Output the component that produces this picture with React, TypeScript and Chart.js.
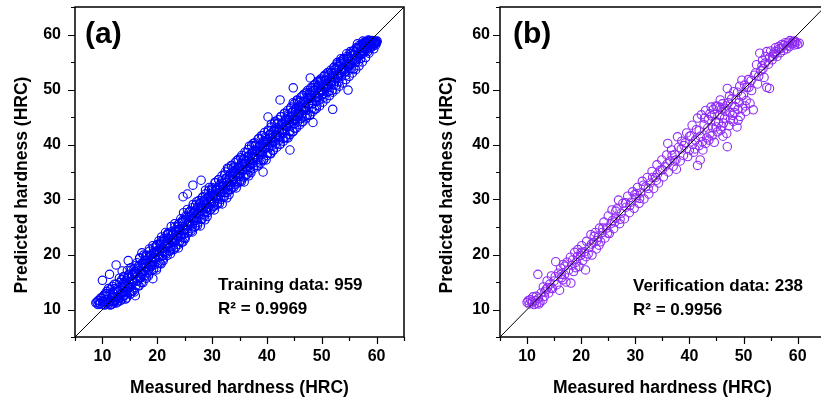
import React, { useEffect, useRef } from 'react';
import { Chart, registerables } from 'chart.js';

Chart.register(...registerables);

// ---------- data ----------
const axisMin = 5;
const axisMax = 65;
const majorTicks = [10, 20, 30, 40, 50, 60];
const diagonal = [5, 65];

const trainingTitle = 'Training data: 959';
const trainingR2 = 'R² = 0.9969';
const verificationTitle = 'Verification data: 238';
const verificationR2 = 'R² = 0.9956';
const xTitle = 'Measured hardness (HRC)';
const yTitle = 'Predicted hardness (HRC)';

// [measured, predicted]
const trainingPoints: [number, number][] = [
  [8.8, 11.2], [9.2, 11.6], [9.5, 11.0], [9.7, 12.1], [10.0, 15.3], [10.1, 11.4], [10.3, 12.6], [10.5, 10.9],
  [10.6, 11.8], [10.8, 12.9], [11.0, 11.3], [11.1, 13.8], [11.3, 16.4], [11.4, 10.8], [11.6, 12.2], [11.8, 11.0],
  [11.9, 13.1], [12.1, 11.5], [12.2, 14.6], [12.4, 12.3], [12.5, 18.1], [12.6, 11.2], [12.8, 13.4], [13.0, 12.0],
  [13.1, 15.7], [13.3, 11.6], [13.5, 13.0], [13.6, 17.0], [13.8, 12.4], [14.0, 14.2],
  [14.2, 11.9], [14.3, 15.3], [14.5, 13.5], [14.7, 18.9], [14.8, 16.4], [15.0, 14.0], [15.1, 12.8], [15.3, 17.2],
  [15.5, 15.1], [15.6, 13.4], [15.8, 16.6], [16.0, 12.5], [16.1, 18.0], [16.3, 15.2], [16.5, 14.3], [16.6, 17.5],
  [16.8, 19.4], [17.0, 15.8], [17.1, 16.9], [17.2, 20.3], [17.4, 14.9], [17.6, 18.2], [17.8, 17.0], [18.0, 15.7],
  [18.1, 19.6], [18.3, 18.4], [18.5, 16.5], [18.6, 20.6], [18.8, 17.9], [19.0, 19.0], [19.2, 15.6], [19.3, 21.2],
  [19.5, 18.1], [19.7, 20.0], [19.9, 17.6],
  [20.0, 21.8], [20.2, 19.5], [20.4, 20.7], [20.5, 18.4], [20.7, 22.4], [20.9, 21.1], [21.0, 19.2], [21.2, 22.9],
  [21.4, 20.3], [21.6, 21.9], [21.8, 19.8], [22.0, 23.6], [22.1, 22.0], [22.3, 20.6], [22.5, 24.1], [22.7, 21.4],
  [22.9, 23.0], [23.0, 20.9], [23.2, 25.0], [23.4, 22.6], [23.6, 24.0], [23.8, 21.8], [24.0, 25.6], [24.2, 23.4],
  [24.4, 22.2], [24.6, 26.2], [24.7, 30.5], [24.8, 24.5], [25.0, 23.1], [25.2, 27.0], [25.4, 25.3], [25.5, 31.0],
  [25.6, 23.9], [25.8, 27.7], [26.0, 26.0], [26.2, 24.3], [26.4, 28.5], [26.5, 32.6], [26.6, 26.6], [26.8, 25.0],
  [27.0, 29.0], [27.2, 27.4], [27.4, 25.8], [27.6, 29.8], [27.8, 28.0], [28.0, 33.5], [28.0, 26.4], [28.2, 30.3],
  [28.4, 28.6], [28.6, 27.0], [28.8, 31.0], [29.0, 29.3], [29.2, 27.6], [29.4, 31.6], [29.6, 30.0], [29.8, 28.2],
  [30.0, 32.2], [30.2, 30.6], [30.4, 28.8], [30.6, 33.0], [30.8, 31.2], [31.0, 29.4], [31.2, 33.6], [31.4, 31.8],
  [31.6, 30.0], [31.8, 34.3], [32.0, 32.4], [32.2, 30.7], [32.4, 35.0], [32.6, 33.0], [32.8, 31.3], [33.0, 35.6],
  [33.2, 33.6], [33.4, 31.8], [33.6, 36.1], [33.8, 34.2], [34.0, 32.3], [34.2, 36.7], [34.4, 34.8], [34.6, 33.0],
  [34.8, 37.3], [35.0, 35.3], [35.2, 33.5], [35.4, 38.0], [35.6, 36.0], [35.8, 34.1], [36.0, 38.6], [36.2, 36.5],
  [36.4, 34.6], [36.6, 39.1], [36.8, 37.1], [37.0, 35.2], [37.2, 39.8], [37.4, 37.6], [37.6, 35.7], [37.8, 40.3],
  [38.0, 38.2], [38.2, 36.2], [38.4, 41.0], [38.6, 38.8], [38.8, 36.6], [39.0, 41.6], [39.2, 39.4], [39.3, 35.0],
  [39.4, 37.2], [39.6, 42.2], [39.8, 40.0],
  [40.0, 38.0], [40.2, 45.0], [40.2, 42.6], [40.4, 40.5], [40.6, 38.4], [40.8, 43.2], [41.0, 41.1], [41.2, 39.0],
  [41.4, 43.9], [41.6, 41.7], [41.8, 39.5], [42.0, 44.5], [42.2, 42.3], [42.4, 48.1], [42.4, 40.0], [42.6, 45.0],
  [42.8, 42.8], [43.0, 40.6], [43.2, 45.7], [43.4, 43.4], [43.6, 41.2], [43.8, 46.2], [44.0, 44.0], [44.2, 39.0],
  [44.2, 41.8], [44.4, 46.8], [44.6, 44.5], [44.8, 50.3], [44.8, 42.4], [45.0, 47.4], [45.2, 45.1], [45.4, 43.0],
  [45.6, 48.0], [45.8, 45.7], [46.0, 43.6], [46.2, 48.6], [46.4, 46.3], [46.6, 44.2], [46.8, 49.2], [47.0, 46.9],
  [47.2, 44.8], [47.4, 49.8], [47.6, 47.4], [47.9, 52.1], [47.8, 45.4], [48.0, 50.3], [48.2, 48.0], [48.4, 44.0],
  [48.4, 46.0], [48.6, 50.8], [48.8, 48.6], [49.0, 46.5], [49.2, 51.4], [49.4, 49.2], [49.6, 47.0], [49.8, 51.9],
  [50.0, 49.8], [50.2, 47.7], [50.4, 52.4], [50.6, 50.3], [50.8, 48.3], [51.0, 53.0], [51.2, 50.9], [51.4, 48.9],
  [51.6, 53.5], [51.8, 51.4], [52.0, 46.4], [52.0, 49.5], [52.2, 54.0], [52.4, 52.0], [52.6, 50.0], [52.8, 54.6],
  [53.0, 52.6], [53.2, 50.6], [53.4, 55.1], [53.6, 53.1], [53.8, 51.2], [54.0, 55.6], [54.2, 53.7], [54.4, 51.8],
  [54.6, 56.0], [54.8, 49.9], [54.8, 54.2], [55.0, 52.4], [55.2, 56.5], [55.4, 54.7], [55.6, 53.0], [55.8, 57.0],
  [56.0, 55.3], [56.2, 53.6], [56.4, 57.4], [56.6, 55.9], [56.8, 54.3], [57.0, 57.8], [57.2, 56.4], [57.4, 55.0],
  [57.6, 58.1], [57.8, 57.0], [58.0, 55.8], [58.2, 58.4], [58.4, 57.5], [58.6, 56.6], [58.8, 58.6], [59.0, 57.9],
  [59.2, 58.8], [59.4, 58.2], [59.6, 58.7], [59.8, 58.4], [60.0, 58.6], [59.5, 57.4], [58.5, 59.0], [57.5, 58.8],
  [56.5, 58.3],
];

const trainingPointsMore: [number, number][] = [
  [9.0, 11.3], [9.2, 10.9], [9.4, 11.7], [9.6, 11.1], [9.8, 12.0],
  [10.0, 11.0], [10.15, 12.4], [10.3, 11.5], [10.4, 10.8], [10.55, 12.9], [10.7, 11.2], [10.8, 13.3], [10.95, 11.8],
  [11.1, 11.0], [11.2, 12.6], [11.35, 11.4], [11.5, 13.7], [11.6, 10.9], [11.75, 12.1], [11.85, 14.2], [11.9, 11.6],
  [12.0, 12.9], [12.15, 11.2], [12.3, 13.8], [12.4, 11.7], [12.55, 14.6], [12.7, 12.3], [12.8, 11.4], [12.95, 13.4],
  [13.1, 12.0], [13.2, 14.9], [13.35, 12.8], [13.5, 15.4], [13.6, 11.9], [13.75, 13.9], [13.85, 16.0], [13.9, 12.6],
  [14.0, 15.9], [14.15, 12.6], [14.3, 14.6], [14.4, 12.1], [14.55, 17.1], [14.7, 14.2], [14.8, 15.9], [14.95, 13.1],
  [15.1, 14.2], [15.2, 17.6], [15.35, 13.3], [15.5, 16.3], [15.6, 15.4], [15.75, 17.4], [15.85, 13.2], [15.9, 16.4],
  [16.0, 16.6], [16.15, 14.4], [16.3, 18.5], [16.4, 16.0], [16.55, 17.9], [16.7, 14.3], [16.8, 19.3], [16.95, 15.8],
  [17.1, 14.9], [17.2, 18.4], [17.35, 16.6], [17.5, 19.9], [17.6, 16.1], [17.75, 17.8], [17.85, 19.7], [17.9, 17.6],
  [18.0, 19.9], [18.15, 16.7], [18.3, 18.6], [18.4, 16.1], [18.55, 21.0], [18.7, 18.2], [18.8, 19.9], [18.95, 17.1],
  [19.1, 18.2], [19.2, 21.6], [19.35, 17.3], [19.5, 20.3], [19.6, 19.4], [19.75, 21.4], [19.85, 17.2], [19.9, 20.4],
  [20.0, 20.6], [20.15, 18.4], [20.3, 22.5], [20.4, 20.0], [20.55, 21.9], [20.7, 18.3], [20.8, 23.2], [20.95, 19.8],
  [21.1, 18.9], [21.2, 22.4], [21.35, 20.6], [21.5, 24.0], [21.6, 20.1], [21.75, 21.8], [21.85, 23.7], [21.9, 21.6],
  [22.0, 23.9], [22.15, 20.7], [22.3, 22.6], [22.4, 20.1], [22.55, 25.1], [22.7, 22.2], [22.8, 23.9], [22.95, 21.1],
  [23.1, 22.2], [23.2, 25.6], [23.35, 21.3], [23.5, 24.3], [23.6, 23.4], [23.75, 25.4], [23.85, 21.2], [23.9, 24.4],
  [24.0, 24.6], [24.15, 22.4], [24.3, 26.5], [24.4, 24.0], [24.55, 25.9], [24.7, 22.3], [24.8, 27.6], [24.95, 23.8],
  [25.1, 22.9], [25.2, 26.4], [25.35, 24.6], [25.5, 28.2], [25.6, 24.1], [25.75, 25.8], [25.85, 27.7], [25.9, 25.6],
  [26.0, 27.9], [26.15, 24.7], [26.3, 26.6], [26.4, 24.1], [26.55, 29.1], [26.7, 26.2], [26.8, 27.9], [26.95, 25.1],
  [27.1, 26.2], [27.2, 29.6], [27.35, 25.3], [27.5, 28.3], [27.6, 27.4], [27.75, 29.4], [27.85, 25.2], [27.9, 28.4],
  [28.0, 28.6], [28.15, 26.4], [28.3, 30.5], [28.4, 28.0], [28.55, 29.9], [28.7, 26.3], [28.8, 31.7], [28.95, 27.8],
  [29.1, 26.9], [29.2, 30.4], [29.35, 28.6], [29.5, 32.2], [29.6, 28.1], [29.75, 29.8], [29.85, 31.7], [29.9, 29.6],
  [30.0, 31.9], [30.15, 28.7], [30.3, 30.6], [30.4, 28.1], [30.55, 33.1], [30.7, 30.2], [30.8, 31.9], [30.95, 29.1],
  [31.1, 30.2], [31.2, 33.6], [31.35, 29.3], [31.5, 32.3], [31.6, 31.4], [31.75, 33.4], [31.85, 29.2], [31.9, 32.4],
  [32.0, 32.6], [32.15, 30.4], [32.3, 34.5], [32.4, 32.0], [32.55, 33.9], [32.7, 30.3], [32.8, 35.7], [32.95, 31.8],
  [33.1, 30.9], [33.2, 34.4], [33.35, 32.6], [33.5, 36.2], [33.6, 32.1], [33.75, 33.8], [33.85, 35.7], [33.9, 33.6],
  [34.0, 35.9], [34.15, 32.7], [34.3, 34.6], [34.4, 32.1], [34.55, 37.1], [34.7, 34.2], [34.8, 35.9], [34.95, 33.1],
  [35.1, 34.2], [35.2, 37.6], [35.35, 33.3], [35.5, 36.3], [35.6, 35.4], [35.75, 37.4], [35.85, 33.2], [35.9, 36.4],
  [36.0, 36.6], [36.15, 34.4], [36.3, 38.5], [36.4, 36.0], [36.55, 37.9], [36.7, 34.3], [36.8, 39.7], [36.95, 35.8],
  [37.1, 34.9], [37.2, 38.4], [37.35, 36.6], [37.5, 40.2], [37.6, 36.1], [37.75, 37.8], [37.85, 39.7], [37.9, 37.6],
  [38.0, 39.9], [38.15, 36.7], [38.3, 38.6], [38.4, 36.1], [38.55, 41.1], [38.7, 38.2], [38.8, 39.9], [38.95, 37.1],
  [39.1, 38.2], [39.2, 41.6], [39.35, 37.3], [39.5, 40.3], [39.6, 39.4], [39.75, 41.4], [39.85, 37.2], [39.9, 40.4],
  [40.0, 40.6], [40.15, 38.4], [40.3, 42.5], [40.4, 40.0], [40.55, 41.9], [40.7, 38.3], [40.8, 43.7], [40.95, 39.8],
  [41.1, 38.9], [41.2, 42.4], [41.35, 40.6], [41.5, 44.2], [41.6, 40.1], [41.75, 41.8], [41.85, 43.7], [41.9, 41.6],
  [42.0, 43.9], [42.15, 40.7], [42.3, 42.6], [42.4, 40.1], [42.55, 45.1], [42.7, 42.2], [42.8, 43.9], [42.95, 41.1],
  [43.1, 42.2], [43.2, 45.6], [43.35, 41.3], [43.5, 44.3], [43.6, 43.4], [43.75, 45.4], [43.85, 41.2], [43.9, 44.4],
  [44.0, 44.6], [44.15, 42.4], [44.3, 46.5], [44.4, 44.0], [44.55, 45.9], [44.7, 42.3], [44.8, 47.6], [44.95, 43.8],
  [45.1, 42.9], [45.2, 46.4], [45.35, 44.6], [45.5, 48.1], [45.6, 44.1], [45.75, 45.8], [45.85, 47.6], [45.9, 45.6],
  [46.0, 47.9], [46.15, 44.7], [46.3, 46.6], [46.4, 44.1], [46.55, 48.9], [46.7, 46.2], [46.8, 47.9], [46.95, 45.1],
  [47.1, 46.2], [47.2, 49.4], [47.35, 45.3], [47.5, 48.3], [47.6, 47.4], [47.75, 49.4], [47.85, 45.3], [47.9, 48.4],
  [48.0, 48.6], [48.15, 46.5], [48.3, 50.3], [48.4, 48.0], [48.55, 49.9], [48.7, 46.4], [48.8, 51.0], [48.95, 47.8],
  [49.1, 47.1], [49.2, 50.4], [49.35, 48.6], [49.5, 51.6], [49.6, 48.1], [49.75, 49.8], [49.85, 51.5], [49.9, 49.6],
  [50.0, 51.5], [50.15, 49.0], [50.3, 50.5], [50.4, 48.6], [50.55, 52.6], [50.7, 50.3], [50.8, 51.7], [50.95, 49.5],
  [51.1, 50.4], [51.2, 53.1], [51.35, 49.7], [51.5, 52.1], [51.6, 51.4], [51.75, 53.1], [51.85, 49.8], [51.9, 52.3],
  [52.0, 52.5], [52.15, 50.8], [52.3, 54.1], [52.4, 52.1], [52.55, 53.7], [52.7, 50.8], [52.8, 54.9], [52.95, 52.1],
  [53.1, 51.4], [53.2, 54.2], [53.35, 52.8], [53.5, 55.6], [53.6, 52.4], [53.75, 53.8], [53.85, 55.4], [53.9, 53.7],
  [54.0, 55.5], [54.15, 53.0], [54.3, 54.5], [54.4, 52.6], [54.55, 56.5], [54.7, 54.3], [54.8, 55.7], [54.95, 53.5],
  [55.1, 54.4], [55.2, 56.9], [55.35, 53.8], [55.5, 56.1], [55.6, 55.4], [55.75, 57.0], [55.85, 53.8], [55.9, 56.3],
  [56.0, 56.4], [56.15, 54.9], [56.3, 57.6], [56.4, 56.1], [56.55, 57.5], [56.7, 55.0], [56.8, 58.0], [56.95, 56.2],
  [57.1, 55.6], [57.2, 58.0], [57.35, 56.9], [57.5, 58.4], [57.6, 56.6], [57.75, 57.8], [57.85, 58.6], [57.9, 57.6],
  [58.0, 58.7], [58.15, 57.1], [58.3, 58.3], [58.4, 56.9], [58.55, 58.8], [58.7, 58.0], [58.8, 58.6], [58.95, 57.6],
  [59.1, 58.4], [59.2, 58.9], [59.35, 57.9], [59.5, 58.6], [59.6, 58.3], [59.75, 58.8], [59.85, 58.1], [59.9, 58.7],
  [60.0, 58.5], [60.1, 58.8],
];

const trainingPointsCore: [number, number][] = [
  [12.1, 12.3], [12.35, 11.6], [12.6, 13.6], [12.85, 12.0], [13.1, 12.6], [13.35, 14.2], [13.6, 12.9], [13.85, 14.8],
  [14.1, 14.9], [14.35, 13.2], [14.6, 15.8], [14.85, 13.9], [15.1, 14.6], [15.35, 16.3], [15.6, 14.9], [15.85, 16.9],
  [16.1, 16.9], [16.35, 15.2], [16.6, 17.8], [16.85, 15.9], [17.1, 16.6], [17.35, 18.3], [17.6, 16.9], [17.85, 18.9],
  [18.1, 18.9], [18.35, 17.2], [18.6, 19.8], [18.85, 17.9], [19.1, 18.7], [19.35, 20.4], [19.6, 19.3], [19.85, 21.6],
  [20.1, 20.8], [20.35, 19.5], [20.6, 21.9], [20.85, 20.6], [21.1, 20.5], [21.35, 22.6], [21.6, 21.4], [21.85, 23.0],
  [22.1, 22.9], [22.35, 21.4], [22.6, 23.5], [22.85, 22.6], [23.1, 22.8], [23.35, 24.5], [23.6, 23.3], [23.85, 25.1],
  [24.1, 24.7], [24.35, 23.2], [24.6, 25.9], [24.85, 24.4], [25.1, 24.6], [25.35, 26.8], [25.6, 25.2], [25.85, 27.0],
  [26.1, 26.8], [26.35, 25.4], [26.6, 27.7], [26.85, 26.5], [27.1, 26.7], [27.35, 28.6], [27.6, 27.3], [27.85, 29.2],
  [28.1, 28.9], [28.35, 27.3], [28.6, 29.6], [28.85, 28.4], [29.1, 28.6], [29.35, 30.5], [29.6, 29.2], [29.85, 31.1],
  [30.1, 30.8], [30.35, 29.4], [30.6, 31.9], [30.85, 30.5], [31.1, 30.7], [31.35, 32.6], [31.6, 31.3], [31.85, 33.0],
  [32.1, 32.9], [32.35, 31.3], [32.6, 33.8], [32.85, 32.4], [33.1, 32.6], [33.35, 34.7], [33.6, 33.4], [33.85, 35.1],
  [34.1, 34.8], [34.35, 33.3], [34.6, 35.7], [34.85, 34.6], [35.1, 34.7], [35.35, 36.6], [35.6, 35.3], [35.85, 37.2],
  [36.1, 36.9], [36.35, 35.4], [36.6, 37.8], [36.85, 36.5], [37.1, 36.6], [37.35, 38.7], [37.6, 37.4], [37.85, 39.0],
  [38.1, 38.8], [38.35, 37.3], [38.6, 39.7], [38.85, 38.6], [39.1, 38.7], [39.35, 40.6], [39.6, 39.3], [39.85, 41.1],
  [40.1, 40.9], [40.35, 39.4], [40.6, 41.8], [40.85, 40.5], [41.1, 40.6], [41.35, 42.7], [41.6, 41.4], [41.85, 43.0],
  [42.1, 42.8], [42.35, 41.3], [42.6, 43.7], [42.85, 42.6], [43.1, 42.7], [43.35, 44.6], [43.6, 43.3], [43.85, 45.1],
  [44.1, 44.9], [44.35, 43.4], [44.6, 45.8], [44.85, 44.5], [45.1, 44.6], [45.35, 46.7], [45.6, 45.4], [45.85, 47.0],
  [46.1, 46.8], [46.35, 45.3], [46.6, 47.7], [46.85, 46.6], [47.1, 46.7], [47.35, 48.6], [47.6, 47.3], [47.85, 49.1],
  [48.1, 48.9], [48.35, 47.4], [48.6, 49.8], [48.85, 48.5], [49.1, 48.6], [49.35, 50.7], [49.6, 49.4], [49.85, 51.0],
  [50.1, 50.8], [50.35, 49.3], [50.6, 51.7], [50.85, 50.6], [51.1, 50.7], [51.35, 52.6], [51.6, 51.3], [51.85, 53.1],
  [52.1, 52.9], [52.35, 51.4], [52.6, 53.8], [52.85, 52.5], [53.1, 52.6], [53.35, 54.7], [53.6, 53.4], [53.85, 55.0],
  [54.1, 54.8], [54.35, 53.3], [54.6, 55.7], [54.85, 54.6], [55.1, 54.7], [55.35, 56.5], [55.6, 55.3], [55.85, 57.0],
  [56.1, 56.8], [56.35, 55.4], [56.6, 57.5], [56.85, 56.6], [57.1, 56.7], [57.35, 58.2], [57.6, 57.4], [57.85, 58.5],
  [58.1, 58.6], [58.35, 57.5], [58.6, 58.9], [58.85, 58.2],
];

const verificationPoints: [number, number][] = [
  [10.0, 11.3], [10.2, 11.6], [10.4, 11.0], [10.6, 11.8], [10.9, 11.2], [11.1, 12.3], [11.3, 10.9], [11.5, 11.6],
  [11.8, 11.1], [12.0, 16.4], [12.1, 12.0], [12.4, 11.3], [12.6, 13.0], [12.9, 11.7], [13.0, 14.1], [13.2, 12.4],
  [13.5, 13.6], [13.7, 15.2], [14.0, 13.0], [14.2, 14.6], [14.5, 16.1], [14.7, 13.8], [15.0, 15.2], [15.3, 18.7],
  [15.5, 14.5], [15.8, 16.6], [16.0, 13.5], [16.2, 17.5], [16.4, 15.8], [16.7, 18.2], [16.9, 16.3], [17.2, 15.0],
  [17.4, 18.6], [17.7, 17.2], [18.0, 19.5], [18.1, 14.8], [18.3, 18.0], [18.6, 16.9], [18.8, 20.4], [19.1, 18.6],
  [19.4, 20.9], [19.6, 17.8], [19.9, 19.8], [20.1, 21.6], [20.3, 18.9], [20.6, 20.5], [20.8, 17.2], [21.0, 22.4],
  [21.3, 20.1], [21.5, 21.3], [21.8, 23.6], [22.0, 19.9], [22.3, 22.2], [22.6, 24.0], [22.8, 21.0], [23.1, 23.1],
  [23.4, 24.8], [23.6, 22.3], [23.9, 24.0], [24.2, 25.9], [24.4, 23.0], [24.7, 24.8], [25.0, 27.0], [25.2, 23.8],
  [25.5, 25.6], [25.7, 28.1], [26.0, 24.7], [26.3, 26.6], [26.6, 28.3], [26.9, 29.9], [27.1, 25.6], [27.4, 27.5],
  [27.7, 29.3], [28.0, 26.5], [28.3, 28.6], [28.6, 30.6], [28.9, 27.6], [29.2, 29.5], [29.5, 31.4], [29.8, 28.4],
  [30.1, 30.3], [30.4, 32.2], [30.7, 29.3], [31.0, 31.2], [31.3, 33.3], [31.6, 30.1], [31.9, 32.3], [32.2, 34.0],
  [32.5, 31.0], [32.8, 33.0], [33.1, 35.1], [33.4, 32.0], [33.7, 34.0], [34.0, 36.3], [34.3, 33.0], [34.6, 35.3],
  [34.9, 37.2], [35.2, 34.1], [35.5, 36.0], [35.8, 38.1], [36.0, 40.2], [36.1, 35.0], [36.4, 37.0], [36.7, 39.0],
  [37.0, 36.0], [37.3, 38.2], [37.8, 41.4], [37.6, 35.5], [38.0, 39.5], [38.3, 37.0], [38.6, 40.6], [38.9, 38.0],
  [39.2, 40.3], [39.5, 42.1], [39.7, 37.8], [40.0, 39.0], [40.3, 41.6], [40.5, 43.5], [40.8, 38.6], [41.1, 40.8],
  [41.5, 44.8], [41.5, 36.2], [41.8, 42.5], [42.0, 37.2], [42.2, 45.4], [42.4, 40.5], [42.7, 43.6], [43.0, 46.2],
  [43.2, 41.2], [43.5, 44.5], [43.8, 42.0], [44.0, 46.8], [44.3, 43.0], [44.6, 45.5], [44.9, 47.0], [45.2, 42.3],
  [45.4, 44.0], [45.7, 48.1], [45.9, 46.4], [46.2, 41.5], [46.5, 44.8], [46.8, 47.0], [47.0, 39.6], [47.0, 50.2],
  [47.3, 43.4], [47.5, 45.8], [47.8, 48.3], [48.1, 44.2], [48.4, 46.9], [48.8, 43.2], [48.9, 49.5], [49.2, 47.6],
  [49.4, 45.1], [49.7, 51.7], [50.0, 49.0], [50.3, 47.0], [50.6, 50.4], [50.9, 51.8], [51.2, 47.5], [51.5, 49.8],
  [51.8, 46.3], [52.0, 52.6], [52.4, 54.5], [52.6, 51.0], [53.0, 56.6], [53.2, 53.4], [53.5, 55.3], [53.8, 52.2],
  [54.1, 56.0], [54.3, 56.9], [54.3, 50.4], [54.6, 54.6], [54.8, 50.2], [55.0, 57.0], [55.3, 55.4], [55.6, 56.6],
  [55.9, 57.6], [56.2, 56.0], [56.5, 57.8], [56.8, 56.7], [57.1, 58.2], [57.4, 57.1], [57.7, 58.5], [58.0, 57.4],
  [58.3, 58.6], [58.5, 57.8], [58.8, 58.3], [59.1, 58.7], [59.4, 58.1], [59.7, 58.5], [60.0, 58.2], [60.3, 58.4],
];

const verificationPointsMore: [number, number][] = [
  [11.0, 11.5], [11.7, 12.4], [12.2, 11.0], [13.3, 13.2], [14.4, 13.9], [15.2, 16.0], [16.6, 15.4], [17.0, 17.9],
  [18.4, 19.0], [19.0, 17.6], [20.0, 20.4], [20.9, 19.6], [21.9, 21.9], [22.4, 23.3], [23.3, 21.7], [24.0, 24.8],
  [24.9, 23.9], [25.8, 26.2], [26.4, 27.9], [27.2, 26.4], [28.2, 29.4], [29.0, 28.9], [29.9, 30.9], [30.8, 30.2],
  [31.5, 32.6], [32.4, 32.0], [33.2, 34.0], [34.1, 34.6], [35.0, 35.4], [35.9, 36.5], [36.8, 38.0], [37.5, 37.2],
  [38.5, 39.2], [39.0, 39.8], [40.0, 41.5], [40.6, 40.0], [41.3, 42.7], [42.0, 41.5], [42.8, 44.8], [43.4, 43.0],
  [44.1, 45.2], [44.8, 44.2], [45.6, 46.8], [46.0, 43.3], [46.6, 46.0], [47.2, 47.6], [48.0, 45.3], [48.6, 48.2],
  [49.0, 46.4], [49.6, 48.8], [50.5, 48.0], [51.0, 50.4], [52.2, 53.0], [53.4, 54.3], [54.0, 54.8], [55.4, 56.0],
  [56.0, 56.9], [57.0, 57.5], [58.1, 58.0], [59.0, 58.4], [59.5, 58.8],
];

const verificationPointsDense: [number, number][] = [
  [41.0, 39.2], [41.8, 39.8], [42.5, 39.0], [43.0, 40.2], [43.6, 40.8], [44.2, 41.6], [44.6, 40.4], [45.0, 43.2],
  [45.8, 42.6], [46.3, 43.9], [46.9, 42.0], [47.6, 44.6], [48.3, 45.8], [49.0, 44.4], [49.8, 46.6], [50.4, 46.0],
  [43.8, 45.6], [44.4, 46.4], [45.1, 46.9], [45.6, 45.3], [46.1, 47.4], [46.6, 46.6], [47.4, 48.8], [48.2, 49.6],
  [49.3, 50.6], [50.2, 50.8], [51.4, 51.6], [52.8, 52.4], [53.6, 53.8], [54.8, 55.8], [55.8, 56.4], [56.6, 57.4],
  [57.4, 58.0], [58.6, 58.9], [59.4, 58.6], [13.8, 14.0], [16.3, 16.4], [19.3, 19.6], [22.9, 22.5], [26.2, 25.9],
  [30.3, 31.1], [33.9, 33.5], [37.2, 37.0],
];

// ---------- drawing ----------
const FONT = "'Liberation Sans', Arial, Helvetica, sans-serif";

const framePlugin = {
  id: 'frame',
  afterDraw(chart: any, _args: any, opts: any) {
    const { ctx, chartArea: a, scales } = chart;
    const xs = scales.x;
    const ys = scales.y;
    ctx.save();
    ctx.strokeStyle = '#000';
    ctx.lineWidth = 1.5;
    ctx.strokeRect(a.left, a.top, a.right - a.left, a.bottom - a.top);
    ctx.lineWidth = 1.2;
    ctx.beginPath();
    xs.ticks.forEach((t: any) => {
      const px = Math.round(xs.getPixelForValue(t.value)) + 0.5;
      const len = majorTicks.includes(t.value) ? 7 : 4;
      ctx.moveTo(px, a.bottom);
      ctx.lineTo(px, a.bottom + len);
    });
    ys.ticks.forEach((t: any) => {
      const py = Math.round(ys.getPixelForValue(t.value)) + 0.5;
      const len = majorTicks.includes(t.value) ? 7 : 4;
      ctx.moveTo(a.left, py);
      ctx.lineTo(a.left - len, py);
    });
    ctx.stroke();

    ctx.fillStyle = '#000';
    ctx.font = `bold 17.5px ${FONT}`;
    ctx.textAlign = 'center';
    ctx.textBaseline = 'middle';
    ctx.fillText(xTitle, (a.left + a.right) / 2, opts.xTitleY);
    ctx.save();
    ctx.translate(opts.yTitleX, opts.yTitleY);
    ctx.rotate(-Math.PI / 2);
    ctx.fillText(yTitle, 0, 0);
    ctx.restore();

    ctx.font = `bold 30px ${FONT}`;
    ctx.textAlign = 'left';
    ctx.fillText(opts.label, opts.labelX, opts.labelY);

    ctx.font = `bold 17px ${FONT}`;
    ctx.fillText(opts.note, opts.noteX, opts.noteY);
    ctx.fillText(opts.r2, opts.noteX, opts.noteY + 24);
    ctx.restore();
  },
};

type PanelProps = {
  points: [number, number][];
  color: string;
  width: number;
  left: number;
  yAxisWidth: number;
  padRight: number;
  yTickPad: number;
  frame: any;
};

function Panel({ points, color, width, left, yAxisWidth, padRight, yTickPad, frame }: PanelProps) {
  const ref = useRef<HTMLCanvasElement>(null);
  useEffect(() => {
    if (!ref.current) return;
    const tickFont = { family: FONT, size: 16, weight: 'bold' as const };
    const chart = new Chart(ref.current, {
      type: 'scatter',
      data: {
        datasets: [
          {
            type: 'line',
            data: diagonal.map((v) => ({ x: v, y: v })),
            borderColor: '#000',
            borderWidth: 1,
            pointRadius: 0,
            fill: false,
            order: 0,
          } as any,
          {
            data: points.map(([x, y]) => ({ x, y })),
            pointStyle: 'circle',
            pointRadius: 4.2,
            pointBorderWidth: 1.1,
            borderColor: color,
            backgroundColor: 'rgba(0,0,0,0)',
            order: 1,
          } as any,
        ],
      },
      options: {
        animation: false,
        responsive: false,
        events: [],
        layout: { padding: { left: 0, top: 7, right: padRight, bottom: 0 } },
        plugins: {
          legend: { display: false },
          tooltip: { enabled: false },
          frame,
        } as any,
        scales: {
          x: {
            type: 'linear',
            min: axisMin,
            max: axisMax,
            grid: { display: false, drawTicks: false },
            border: { display: false },
            ticks: {
              stepSize: 5,
              autoSkip: false,
              maxRotation: 0,
              padding: 10,
              color: '#000',
              font: tickFont,
              callback: (v: any) => (majorTicks.includes(Number(v)) ? String(v) : ''),
            },
            afterFit: (s: any) => {
              s.height = 65;
              s.paddingLeft = 0;
              s.paddingRight = 0;
            },
          },
          y: {
            type: 'linear',
            min: axisMin,
            max: axisMax,
            grid: { display: false, drawTicks: false },
            border: { display: false },
            ticks: {
              stepSize: 5,
              autoSkip: false,
              padding: yTickPad,
              color: '#000',
              font: tickFont,
              callback: (v: any) => (majorTicks.includes(Number(v)) ? String(v) : ''),
            },
            afterFit: (s: any) => {
              s.width = yAxisWidth;
              s.paddingTop = 0;
              s.paddingBottom = 0;
            },
          },
        },
      } as any,
      plugins: [framePlugin],
    });
    return () => chart.destroy();
  }, []);
  return (
    <canvas
      ref={ref}
      width={width}
      height={402}
      style={{ position: 'absolute', left, top: 0, width, height: 402 }}
    />
  );
}

export default function App() {
  return (
    <div
      style={{
        position: 'absolute',
        left: 0,
        top: 0,
        width: 821,
        height: 402,
        overflow: 'hidden',
        background: '#fff',
      }}
    >
      <Panel
        points={[...trainingPoints, ...trainingPointsMore, ...trainingPointsCore]}
        color="#0000FF"
        width={410}
        left={0}
        yAxisWidth={75}
        padRight={6}
        yTickPad={14}
        frame={{
          label: '(a)',
          labelX: 85,
          labelY: 35,
          note: trainingTitle,
          r2: trainingR2,
          noteX: 218,
          noteY: 285,
          xTitleY: 388,
          yTitleX: 22,
          yTitleY: 185,
        }}
      />
      <Panel
        points={[...verificationPoints, ...verificationPointsMore, ...verificationPointsDense]}
        color="#8F2BF5"
        width={420}
        left={410}
        yAxisWidth={90}
        padRight={1}
        yTickPad={10}
        frame={{
          label: '(b)',
          labelX: 103,
          labelY: 35,
          note: verificationTitle,
          r2: verificationR2,
          noteX: 223,
          noteY: 286,
          xTitleY: 388,
          yTitleX: 37,
          yTitleY: 185,
        }}
      />
    </div>
  );
}
